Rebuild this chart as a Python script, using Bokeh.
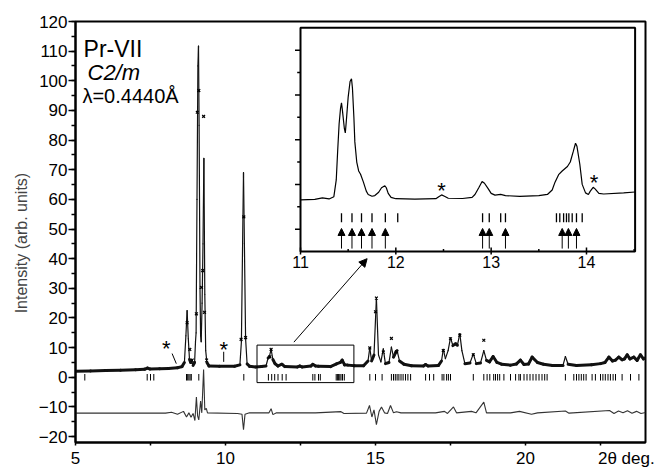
import numpy as np
from bokeh.plotting import figure
from bokeh.models import (Range1d, SingleIntervalTicker, FixedTicker, Arrow, NormalHead,
                          ColumnDataSource)
from bokeh.core.properties import value
from bokeh.embed import file_html
from bokeh.resources import INLINE

FONT = "Liberation Sans"

# ---------------- data ----------------
calc_x = [5.00, 5.50, 6.00, 6.50, 7.00, 7.30, 7.40, 7.48, 7.80, 8.10, 8.40, 8.55, 8.63, 8.68,
          8.72, 8.76, 8.80, 8.84, 8.87, 8.92, 8.97, 9.00, 9.02, 9.05, 9.08, 9.10, 9.12, 9.15,
          9.17, 9.19, 9.22, 9.25, 9.28, 9.31, 9.34, 9.38, 9.45, 9.80, 10.30, 10.48, 10.53,
          10.57, 10.60, 10.63, 10.67, 10.72, 10.80, 11.00, 11.20, 11.35, 11.42, 11.46, 11.52,
          11.58, 11.65, 11.75, 11.88, 11.98, 12.40, 12.48, 12.55, 12.85, 12.91, 13.00, 13.10,
          13.50, 13.70, 13.83, 13.89, 13.97, 14.08, 14.30, 14.60, 14.75, 14.81, 14.87, 14.95,
          15.03, 15.10, 15.18, 15.26, 15.33, 15.45, 15.53, 15.60, 15.68, 15.72, 15.80, 15.95,
          16.20, 16.60, 16.67, 16.75, 17.10, 17.20, 17.26, 17.33, 17.42, 17.50, 17.58, 17.67,
          17.73, 17.81, 17.88, 17.98, 18.15, 18.26, 18.36, 18.50, 18.61, 18.70, 18.80, 18.92,
          19.05, 19.20, 19.50, 19.70, 19.83, 19.95, 20.10, 20.22, 20.40, 20.60, 20.90, 21.25,
          21.33, 21.42, 21.70, 22.20, 22.50, 22.65, 22.78, 22.90, 23.00, 23.11, 23.22, 23.30,
          23.39, 23.48, 23.61, 23.72, 23.83, 23.93, 24.00]
calc_y = [2.0, 2.1, 2.25, 2.4, 2.55, 2.7, 3.1, 2.8, 2.9, 3.0, 3.2, 3.6, 5.0, 14.0,
          22.5, 13.0, 6.0, 5.0, 5.6, 4.0, 5.0, 12.0, 15.0, 60.0, 105.0, 111.7, 85.0, 30.0,
          14.0, 12.0, 25.0, 45.0, 73.8, 28.0, 9.0, 5.0, 3.8, 3.7, 3.7, 4.2, 12.0,
          45.0, 69.0, 45.0, 13.0, 4.5, 3.7, 3.5, 3.6, 3.8, 6.5, 6.9, 9.4,
          6.0, 4.6, 3.8, 4.4, 3.6, 3.5, 3.8, 3.5, 3.8, 4.4, 3.8, 3.7,
          3.6, 4.5, 5.0, 5.8, 4.2, 4.1, 3.9, 3.9, 5.5, 9.9, 5.5, 7.5,
          26.7, 7.5, 5.2, 9.6, 4.6, 5.0, 10.2, 6.8, 8.5, 9.0, 5.5, 4.4,
          3.9, 3.8, 4.3, 3.8, 4.0, 5.5, 9.4, 6.3, 9.0, 13.3, 10.7, 11.3,
          10.8, 14.7, 9.0, 4.6, 4.8, 7.9, 4.6, 4.8, 9.0, 5.7, 5.2, 7.0,
          5.0, 4.4, 4.1, 4.5, 5.8, 4.3, 4.5, 6.8, 5.0, 4.4, 4.0, 4.0,
          7.0, 4.4, 4.0, 4.2, 4.6, 5.0, 6.8, 5.5, 5.8, 6.8, 5.9, 6.2,
          7.6, 6.2, 6.8, 5.7, 7.6, 6.2, 6.5]

obs_x = [8.72, 8.81, 8.89, 9.03, 9.06, 9.11, 9.20, 9.24, 9.27, 9.30, 9.37, 10.52, 10.61,
         10.67, 11.48, 11.52, 14.81, 15.00, 15.03, 15.26, 15.53, 15.70, 17.26, 17.50, 17.81,
         18.61, 18.26]
obs_y = [18.4, 9.4, 5.8, 21.4, 89.4, 96.7, 30.3, 36.0, 88.0, 21.9, 5.8, 12.8, 54.1,
         13.4, 6.9, 9.4, 9.9, 22.1, 26.7, 8.5, 13.1, 8.6, 9.0, 13.0, 14.2,
         12.5, 7.6]

diff_x = [5.0, 8.0, 8.2, 8.4, 8.6, 8.7, 8.78, 8.85, 8.92, 8.98, 9.03, 9.07, 9.11, 9.17,
          9.21, 9.27, 9.31, 9.36, 9.40, 10.40, 10.55, 10.60, 10.65, 10.80, 11.45, 11.52,
          11.58, 11.70, 13.00, 13.85, 13.95, 14.70, 14.80, 14.88, 14.95, 15.03, 15.12, 15.20,
          15.30, 15.40, 15.50, 15.60, 15.70, 15.85, 17.00, 17.30, 17.40, 17.60, 17.70, 18.20,
          18.35, 18.61, 18.70, 19.50, 19.80, 20.20, 20.40, 21.33, 21.45, 22.80, 22.95, 23.10,
          23.25, 23.40, 23.55, 23.70, 23.85, 24.00]
diff_y = [-12.1, -12.1, -11.8, -12.5, -11.5, -13.4, -12.0, -13.5, -12.2, -14.6, -6.7, -13.0,
          -14.4, -8.0, -12.0, 2.6, -11.0, -10.5, -12.0, -12.2, -12.5, -17.7, -12.5, -12.0,
          -12.0, -10.6, -12.6, -12.0, -12.0, -11.6, -12.2, -12.1, -9.5, -13.4, -11.0, -16.0,
          -11.5, -10.0, -12.0, -12.2, -9.5, -12.0, -11.6, -12.0, -12.0, -11.5, -12.2, -10.0,
          -12.0, -11.5, -12.0, -8.4, -12.0, -12.0, -11.5, -12.5, -12.0, -11.4, -12.1, -11.2,
          -12.2, -11.4, -12.0, -11.3, -12.1, -11.5, -12.2, -11.9]

main_refl = [5.31, 7.39, 7.50, 7.61, 8.70, 8.74, 8.78, 8.82, 8.86, 9.11, 10.61, 11.43, 11.54,
             11.64, 11.75, 11.89, 12.02, 12.91, 12.98, 13.10, 13.16, 13.69, 13.73, 13.77,
             13.81, 13.85, 13.90, 13.96, 14.81, 15.00, 15.22, 15.53, 15.60, 15.66, 15.72,
             15.78, 15.85, 15.92, 16.00, 16.08, 16.17, 16.67, 16.80, 16.94, 17.22, 17.28,
             17.37, 17.43, 17.50, 18.26, 18.61, 18.72, 18.81, 18.94, 19.00, 19.07, 19.14,
             19.28, 19.50, 19.67, 19.78, 19.83, 19.95, 20.05, 20.15, 20.25, 20.35, 20.45,
             20.55, 20.64, 20.72, 21.33, 21.61, 21.70, 21.78, 21.86, 21.94, 22.02, 22.22,
             22.33, 22.50, 22.58, 22.66, 22.75, 22.83, 22.92, 23.00, 23.22, 23.50, 23.78, 24.00]
refl_y = [-1.1, 1.1]

# inset (zoom of 11-14.5 deg)
inset_x = [11.00, 11.15, 11.23, 11.30, 11.35, 11.375, 11.39, 11.405, 11.42, 11.43, 11.44,
           11.46, 11.47, 11.48, 11.50, 11.52, 11.535, 11.545, 11.56, 11.57, 11.59, 11.61,
           11.63, 11.66, 11.69, 11.71, 11.75, 11.78, 11.82, 11.85, 11.885, 11.90, 11.92,
           11.95, 12.00, 12.20, 12.42, 12.45, 12.48, 12.51, 12.55, 12.70, 12.80, 12.83,
           12.87, 12.905, 12.93, 12.97, 13.00, 13.04, 13.10, 13.15, 13.30, 13.50, 13.59,
           13.64, 13.67, 13.71, 13.745, 13.80, 13.83, 13.86, 13.885, 13.90, 13.93, 13.955,
           13.99, 14.02, 14.04, 14.07, 14.09, 14.13, 14.18, 14.39, 14.51]
inset_y = [2.31, 2.33, 2.40, 2.35, 2.45, 3.2, 4.5, 5.7, 6.4, 6.65, 6.3,
           5.5, 5.3, 5.8, 6.9, 7.6, 7.72, 7.3, 6.0, 4.9, 4.0, 3.6,
           3.45, 3.1, 2.7, 2.55, 2.47, 2.5, 2.65, 2.85, 2.94, 2.85, 2.6,
           2.42, 2.36, 2.34, 2.36, 2.45, 2.53, 2.47, 2.38, 2.37, 2.42, 2.55,
           2.85, 3.13, 3.05, 2.8, 2.6, 2.52, 2.55, 2.5, 2.46, 2.50, 2.55,
           2.75, 3.1, 3.45, 3.6, 3.8, 4.0, 4.45, 4.84, 4.7, 3.9, 3.0,
           2.62, 2.55, 2.7, 2.87, 2.8, 2.6, 2.57, 2.62, 2.66]
inset_refl = [11.43, 11.54, 11.64, 11.75, 11.89, 12.02, 12.91, 12.98, 13.10, 13.15, 13.685,
              13.72, 13.76, 13.79, 13.815, 13.85, 13.895, 13.955]
inset_refl_y = [1.31, 1.71]
inset_arrows = [11.43, 11.54, 11.64, 11.75, 11.89, 12.91, 12.98, 13.15, 13.745, 13.81, 13.895]
inset_arrow_y = [0.13, 1.03]
inset_xlim = [11.0, 14.51]
inset_ylim = [0.0, 10.0]
inset_xticks = [11, 12, 13, 14]
inset_xminor = [11.5, 12.5, 13.5, 14.5]
inset_yticks_long = [1, 3, 5, 7, 9]
inset_yticks_short = [2, 4, 6, 8]
inset_stars_x = [12.48, 14.08]
inset_stars_y = [2.95, 3.29]

main_stars_x = [8.03, 9.94]
main_stars_y = [11.4, 11.1]
star_lines = [[8.22, 8.36, 8.0, 4.6], [9.94, 9.94, 8.6, 5.2]]
zoom_box = [11.05, 14.28, -1.8, 10.85]
zoom_arrow = [12.28, 11.85, 14.72, 40.0]

x_ticks = [5, 10, 15, 20]
x_minor = [5, 7.5, 10, 12.5, 15, 17.5, 20, 22.5]
x_title = "2\u03b8 deg."
x_title_pos = 23.36
texts = ["Pr-VII", "C2/m", "\u03bb=0.4440\u00c5"]

# ---------------- layout constants ----------------
X0, X1, Y0, Y1 = 5, 24, -22, 120
FW, FH = 570, 421
PX_X = FW / (X1 - X0)
PX_Y = FH / (Y1 - Y0)
# inset pixel scales
IPX_X = 95.33
IPX_Y = 22.37
IX0 = 11 - 225 / IPX_X
IX1 = IX0 + FW / IPX_X
IY0 = -(442 - 251) / IPX_Y
IY1 = IY0 + FH / IPX_Y

p = figure(frame_width=FW, frame_height=FH, x_range=Range1d(X0, X1), y_range=Range1d(Y0, Y1),
           output_backend="svg", toolbar_location=None,
           min_border_left=75, min_border_top=21, min_border_right=20, min_border_bottom=22)
p.extra_x_ranges = {"ix": Range1d(IX0, IX1)}
p.extra_y_ranges = {"iy": Range1d(IY0, IY1)}
p.grid.visible = False
p.outline_line_color = "black"
p.outline_line_width = 2
p.background_fill_color = "white"
p.border_fill_color = "white"

p.xaxis.ticker = FixedTicker(ticks=x_ticks + [x_title_pos], minor_ticks=x_minor)
p.xaxis.major_label_overrides = {x_title_pos: x_title}
p.yaxis.ticker = SingleIntervalTicker(interval=10, num_minor_ticks=2)
for ax in (p.xaxis, p.yaxis):
    ax.axis_line_width = 2
    ax.major_tick_line_width = 1.5
    ax.minor_tick_line_width = 1.5
    ax.major_tick_in = 0
    ax.minor_tick_in = 0
    ax.major_label_text_font = FONT
    ax.major_label_text_color = "black"
    ax.axis_label_text_font = FONT
p.yaxis.major_tick_out = 7
p.yaxis.minor_tick_out = 4
p.yaxis.major_label_standoff = 1
p.yaxis.major_label_text_font_size = "17px"
p.yaxis.axis_label = "Intensity (arb. units)" + "\u00a0" * 5
p.yaxis.axis_label_text_font_size = "16px"
p.yaxis.axis_label_text_font_style = "normal"
p.yaxis.axis_label_standoff = 6
p.xaxis.major_tick_out = 0
p.xaxis.minor_tick_out = 3
p.xaxis.major_label_standoff = 3
p.xaxis.major_label_text_font_size = "17px"
p.xaxis.major_label_text_line_height = 0.8

# ---------------- main pattern ----------------
cx = np.array(calc_x)
cy = np.array(calc_y)
dxp = np.diff(cx) * PX_X
dyp = np.diff(cy) * PX_Y
widths = np.where(np.abs(dyp) > 2.5 * np.abs(dxp), 1.2, 3.0)
seg = ColumnDataSource(dict(x0=cx[:-1], y0=cy[:-1], x1=cx[1:], y1=cy[1:], w=widths))
p.segment("x0", "y0", "x1", "y1", source=seg, line_width="w", line_color="#111111",
          line_cap="round")
p.scatter(obs_x, obs_y, marker="x", size=4, line_width=1.2, line_color="black")

# difference curve
p.line(diff_x, diff_y, line_color="#333333", line_width=1.1)

# reflection ticks
p.segment(x0=main_refl, x1=main_refl, y0=[refl_y[0]] * len(main_refl),
          y1=[refl_y[1]] * len(main_refl), line_color="black", line_width=1)

# stars
p.text(x=main_stars_x, y=main_stars_y, text=["*"] * len(main_stars_x),
       text_font=value(FONT), text_font_size="22px", text_align="center",
       text_baseline="middle", y_offset=5, text_color="black")
for sl in star_lines:
    p.line([sl[0], sl[1]], [sl[2], sl[3]], line_color="black", line_width=1)

# zoom box and arrow
p.quad(left=[zoom_box[0]], right=[zoom_box[1]], bottom=[zoom_box[2]], top=[zoom_box[3]],
       fill_color=None, line_color="black", line_width=1)
p.add_layout(Arrow(x_start=zoom_arrow[0], y_start=zoom_arrow[1], x_end=zoom_arrow[2],
                   y_end=zoom_arrow[3], line_width=1, line_color="black",
                   end=NormalHead(size=8, fill_color="black", line_color="black")))

# texts
p.text(x=[5.27], y=[110.8], text=[texts[0]], text_font=value(FONT), text_font_size="23px",
       text_baseline="alphabetic", text_color="black")
p.text(x=[5.40], y=[102.8], text=[texts[1]], text_font=value(FONT), text_font_size="22px",
       text_font_style="italic", text_baseline="alphabetic", text_color="black")
p.text(x=[5.23], y=[95.0], text=[texts[2]], text_font=value(FONT), text_font_size="20px",
       text_baseline="alphabetic", text_color="black")

# ---------------- inset ----------------
R = dict(x_range_name="ix", y_range_name="iy")
p.quad(left=[inset_xlim[0]], right=[inset_xlim[1]], bottom=[inset_ylim[0]], top=[inset_ylim[1]],
       fill_color="white", line_color="black", line_width=2, **R)
p.line(inset_x, inset_y, line_color="black", line_width=1.2, **R)
n = len(inset_refl)
p.segment(x0=inset_refl, x1=inset_refl, y0=[inset_refl_y[0]] * n, y1=[inset_refl_y[1]] * n,
          line_color="black", line_width=1.3, **R)
asrc = ColumnDataSource(dict(x=inset_arrows, y0=[inset_arrow_y[0]] * len(inset_arrows),
                             y1=[inset_arrow_y[1]] * len(inset_arrows)))
p.add_layout(Arrow(x_start="x", y_start="y0", x_end="x", y_end="y1", source=asrc,
                   line_width=1, line_color="black",
                   end=NormalHead(size=7, fill_color="black", line_color="black"), **R))
# inset axes ticks
lx = 11 - 5.5 / IPX_X
sx = 11 - 3.3 / IPX_X
p.segment(x0=[lx] * len(inset_yticks_long), x1=[inset_xlim[0]] * len(inset_yticks_long),
          y0=inset_yticks_long, y1=inset_yticks_long, line_color="black", line_width=1.5, **R)
p.segment(x0=[sx] * len(inset_yticks_short), x1=[inset_xlim[0]] * len(inset_yticks_short),
          y0=inset_yticks_short, y1=inset_yticks_short, line_color="black", line_width=1.5, **R)
p.segment(x0=inset_xticks, x1=inset_xticks, y0=[-3 / IPX_Y] * 4, y1=[4 / IPX_Y] * 4,
          line_color="black", line_width=1.5, **R)
p.segment(x0=inset_xminor, x1=inset_xminor, y0=[0] * 4, y1=[2.5 / IPX_Y] * 4,
          line_color="black", line_width=1.5, **R)
p.text(x=inset_xticks, y=[0] * 4, text=[str(t) for t in inset_xticks], text_font=value(FONT),
       text_font_size="16px", text_align="center", text_baseline="top", y_offset=4,
       text_color="black", **R)
p.text(x=inset_stars_x, y=inset_stars_y, text=["*"] * 2, text_font=value(FONT),
       text_font_size="22px", text_align="center", text_baseline="middle", y_offset=5,
       text_color="black", **R)

open("out.html", "w").write(file_html(p, INLINE))
